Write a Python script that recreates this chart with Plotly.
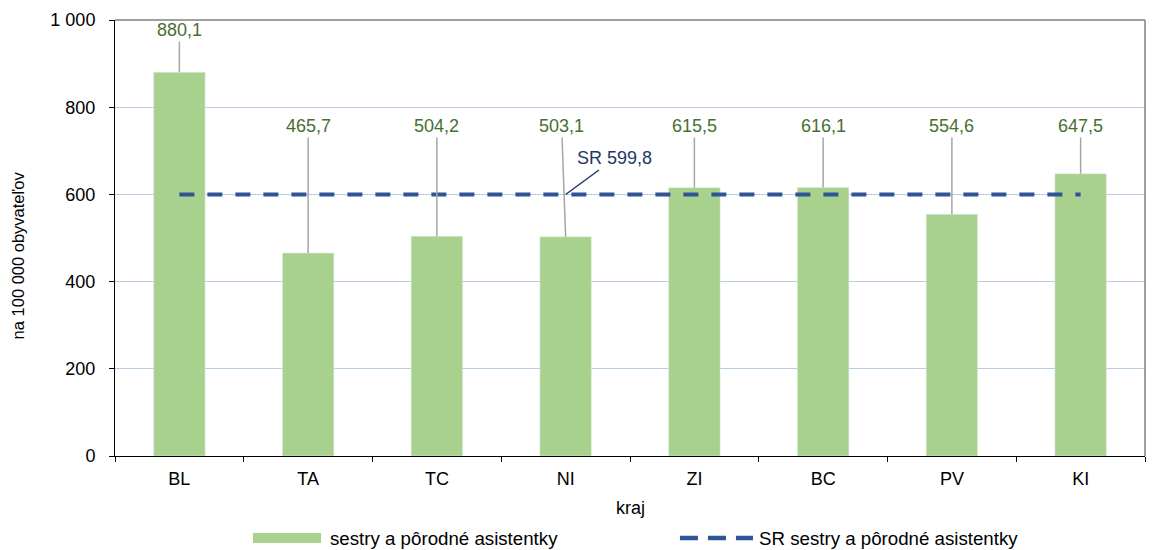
import plotly.graph_objects as go

categories = ["BL", "TA", "TC", "NI", "ZI", "BC", "PV", "KI"]
values = [880.1, 465.7, 504.2, 503.1, 615.5, 616.1, 554.6, 647.5]
sr_value = 599.8
label_texts = ["880,1", "465,7", "504,2", "503,1", "615,5", "616,1", "554,6", "647,5"]
y_ticks = [0, 200, 400, 600, 800, 1000]
y_tick_text = ["0", "200", "400", "600", "800", "1 000"]

bar_name = "sestry a pôrodné asistentky"
line_name = "SR sestry a pôrodné asistentky"
FONT = "Liberation Sans, Arial, sans-serif"
GREEN = "#a9d18e"
BLUE = "#2f5597"
LABEL_GREEN = "#47702f"
FS = 18
LEG_FS = 18.7

fig = go.Figure()
fig.add_trace(go.Bar(x=categories, y=values, marker_color=GREEN, width=0.4,
                     showlegend=False, name=bar_name))
fig.add_trace(go.Scatter(x=categories, y=[sr_value] * len(categories), mode="lines",
                         name=line_name, showlegend=False,
                         line=dict(color=BLUE, width=4, dash="15px,13px")))

annotations = []
for c, v, t in zip(categories, values, label_texts):
    ay = 977 if v > 800 else 757
    annotations.append(dict(x=c, y=v, xref="x", yref="y", text=t,
                            showarrow=True, arrowhead=0, arrowwidth=1.5,
                            arrowcolor="#a6a6a6", ax=(-4 if c == "NI" else 0),
                            ay=ay, ayref="y", axref="pixel",
                            font=dict(color=LABEL_GREEN, size=FS, family=FONT)))
annotations.append(dict(x="NI", y=sr_value, xref="x", yref="y", text="SR 599,8",
                        showarrow=True, arrowhead=0, arrowwidth=1.5, arrowcolor="#1f3864",
                        ax=49, ay=-36, font=dict(color="#1f3864", size=FS, family=FONT)))
annotations.append(dict(x=0.5, y=-0.119, xref="paper", yref="paper", yanchor="middle",
                        text="kraj", showarrow=False, font=dict(size=FS, color="#000", family=FONT)))
annotations.append(dict(x=-0.0942, y=0.46, xref="paper", yref="paper", xanchor="center",
                        yanchor="middle", textangle=-90, text="na 100 000 obyvateľov",
                        showarrow=False, font=dict(size=16.5, color="#000", family=FONT)))
# legend entries (text)
annotations.append(dict(x=0.2068, y=-0.1881, xref="paper", yref="paper", xanchor="left",
                        yanchor="middle", text=bar_name, showarrow=False,
                        font=dict(size=LEG_FS, color="#000", family=FONT)))
annotations.append(dict(x=0.6233, y=-0.1881, xref="paper", yref="paper", xanchor="left",
                        yanchor="middle", text=line_name, showarrow=False,
                        font=dict(size=LEG_FS, color="#000", family=FONT)))

fig.update_layout(
    width=1153, height=550,
    margin=dict(l=115, r=8, t=20, b=94),
    plot_bgcolor="white", paper_bgcolor="white",
    font=dict(family=FONT, size=FS, color="#000"),
    annotations=annotations,
    showlegend=False,
    shapes=[
        dict(type="line", xref="paper", yref="paper", x0=0, x1=1, y0=1, y1=1,
             line=dict(color="#7f7f7f", width=1.5)),
        dict(type="line", xref="paper", yref="paper", x0=1, x1=1, y0=0, y1=1,
             line=dict(color="#7f7f7f", width=1.5)),
        # legend symbols
        dict(type="rect", xref="paper", yref="paper", x0=0.1340, x1=0.2000,
             y0=-0.1995, y1=-0.1766, fillcolor=GREEN, line=dict(width=0)),
        dict(type="line", xref="paper", yref="paper", x0=0.5485, x1=0.6194,
             y0=-0.1881, y1=-0.1881, line=dict(color=BLUE, width=4.5, dash="18px,10px")),
    ],
)
fig.update_xaxes(showline=True, linecolor="#000", linewidth=1, ticks="outside",
                 tickson="boundaries", ticklen=5, tickcolor="#000",
                 ticklabelstandoff=6,
                 tickfont=dict(size=FS), showgrid=False, automargin=False)
fig.update_yaxes(range=[0, 1000], tickvals=y_ticks, ticktext=y_tick_text,
                 showline=True, linecolor="#000", linewidth=1, ticks="outside",
                 ticklen=5, tickcolor="#000", gridcolor="#b8cce4", gridwidth=1,
                 ticklabelstandoff=10,
                 tickfont=dict(size=FS), zeroline=False, automargin=False)

fig.write_html("out.html", config={"displayModeBar": False},
               post_script="document.body.style.margin='0';")
